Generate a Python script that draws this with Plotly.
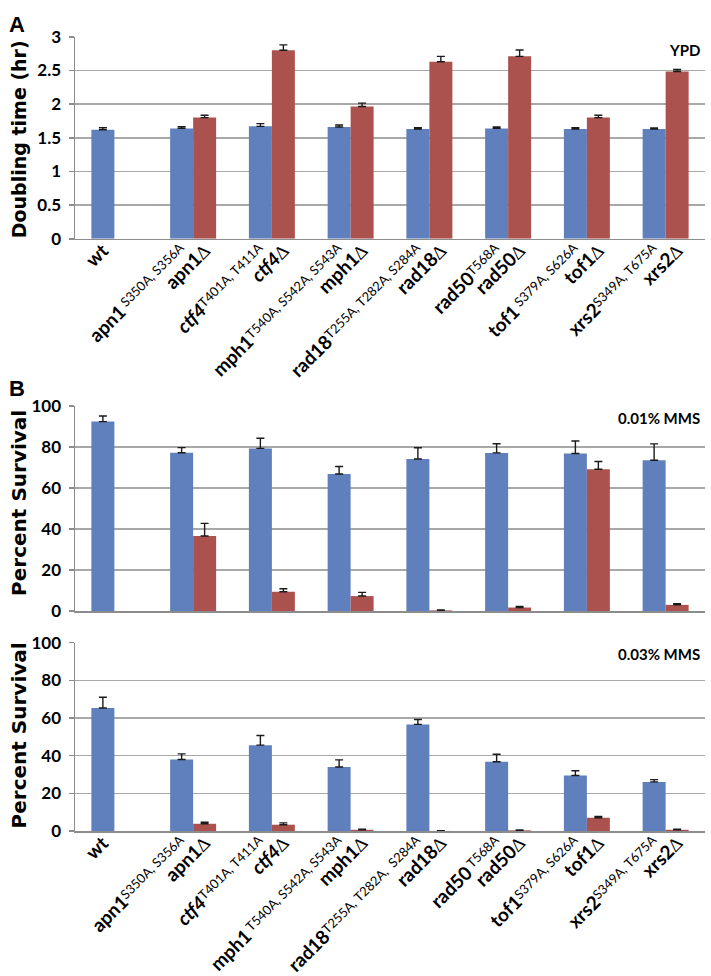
import plotly.graph_objects as go

# ---------------- data ----------------
genes = ["wt", "apn1", "ctf4", "mph1", "rad18", "rad50", "tof1", "xrs2"]

def sup(t):
    return "<span style='font-size:13px;font-weight:normal;baseline-shift:5px'>" + t + "</span>"

labels_A = ["<b>wt</b>",
            "<b>apn1</b>" + sup(" S350A, S356A"), "<b>apn1</b>∆",
            "<b><i>ctf4</i></b>" + sup("T401A, T411A"), "<b><i>ctf4</i></b>∆",
            "<b>mph1</b>" + sup("T540A, S542A, S543A"), "<b>mph1</b>∆",
            "<b>rad18</b>" + sup("T255A, T282A, S284A"), "<b>rad18</b>∆",
            "<b>rad50</b>" + sup("T568A"), "<b>rad50</b>∆",
            "<b>tof1</b>" + sup(" S379A, S626A"), "<b>tof1</b>∆",
            "<b>xrs2</b>" + sup("S349A, T675A"), "<b>xrs2</b>∆"]
labels_B = ["<b>wt</b>",
            "<b>apn1</b>" + sup("S350A, S356A"), "<b>apn1</b>∆",
            "<b><i>ctf4</i></b>" + sup("T401A, T411A"), "<b><i>ctf4</i></b>∆",
            "<b>mph1</b>" + sup(" T540A, S542A, S543A"), "<b>mph1</b>∆",
            "<b>rad18</b>" + sup("T255A, T282A,  S284A"), "<b>rad18</b>∆",
            "<b>rad50</b>" + sup(" T568A"), "<b>rad50</b>∆",
            "<b>tof1</b>" + sup("S379A, S626A"), "<b>tof1</b>∆",
            "<b>xrs2</b>" + sup("S349A, T675A"), "<b>xrs2</b>∆"]

# Panel A: doubling time (hr) in YPD
ypd_mut = [1.62, 1.64, 1.67, 1.66, 1.63, 1.64, 1.63, 1.63]
ypd_mut_err = [0.03, 0.025, 0.04, 0.03, 0.02, 0.02, 0.02, 0.015]
ypd_del = [None, 1.80, 2.80, 1.965, 2.63, 2.71, 1.80, 2.485]
ypd_del_err = [0, 0.035, 0.08, 0.05, 0.08, 0.095, 0.035, 0.03]

# Panel B top: percent survival 0.01% MMS
mms1_mut = [92.5, 77.3, 79.4, 66.9, 74.2, 77.2, 76.9, 73.6]
mms1_mut_err = [2.7, 2.5, 5.0, 3.7, 5.5, 4.5, 6.1, 8.0]
mms1_del = [None, 36.6, 9.4, 7.3, 0.3, 1.7, 69.2, 3.0]
mms1_del_err = [0, 6.2, 1.5, 1.8, 0.2, 0.5, 3.8, 0.6]

# Panel B bottom: percent survival 0.03% MMS
mms3_mut = [65.3, 38.0, 45.6, 34.0, 56.6, 36.8, 29.5, 26.1]
mms3_mut_err = [5.7, 3.0, 5.1, 3.8, 2.6, 4.0, 2.5, 1.2]
mms3_del = [None, 3.9, 3.4, 0.7, 0.1, 0.4, 7.1, 0.7]
mms3_del_err = [0, 0.8, 1.0, 0.3, 0.1, 0.2, 0.7, 0.3]

# ---------------- style ----------------
BLUE = "#5f80bc"
RED = "#ab524f"
GRID = "#a8a8a8"
AXIS = "#8c8c8c"
BARGAP = 0.416
FONT = "Lato"
TITLE_FONT = "DejaVu Sans"

W, H = 711, 976
def px_x(p):
    return p / W
def px_y(p):
    return 1 - p / H

x_idx = list(range(len(genes)))
half = (1 - BARGAP) / 4
tickvals = []
for i, g in enumerate(genes):
    tickvals.append(i - half)
    if ypd_del[i] is not None:
        tickvals.append(i + half)

fig = go.Figure()

def add_panel(n, mut, mut_err, dele, dele_err):
    xa = "x" if n == 1 else "x%d" % n
    ya = "y" if n == 1 else "y%d" % n
    err_style = dict(type="data", symmetric=False, color="#1a1a1a",
                     thickness=1.4, width=4)
    fig.add_trace(go.Bar(x=x_idx, y=mut, marker_color=BLUE,
                         marker_line_width=0, xaxis=xa, yaxis=ya,
                         error_y=dict(array=mut_err, arrayminus=[0] * len(mut), **err_style),
                         showlegend=False, hoverinfo="skip"))
    fig.add_trace(go.Bar(x=x_idx, y=dele, marker_color=RED,
                         marker_line_width=0, xaxis=xa, yaxis=ya,
                         error_y=dict(array=dele_err, arrayminus=[0] * len(dele), **err_style),
                         showlegend=False, hoverinfo="skip"))

add_panel(1, ypd_mut, ypd_mut_err, ypd_del, ypd_del_err)
add_panel(2, mms1_mut, mms1_mut_err, mms1_del, mms1_del_err)
add_panel(3, mms3_mut, mms3_mut_err, mms3_del, mms3_del_err)

x_dom = [px_x(75), px_x(705)]

def xaxis(labels, anchor):
    d = dict(domain=x_dom, range=[-0.5, len(genes) - 0.5], anchor=anchor,
             showgrid=False, zeroline=False, showline=True, linecolor=AXIS,
             linewidth=1.5, ticks="", fixedrange=True)
    if labels is None:
        d.update(showticklabels=False)
    else:
        d.update(tickmode="array", tickvals=tickvals, ticktext=labels,
                 tickangle=-45, ticklabelstandoff=-8,
                 tickfont=dict(family=FONT, size=19, color="black"))
    return d

def yaxis(dom, rng, dtick, anchor):
    return dict(domain=dom, range=rng, dtick=dtick, anchor=anchor,
                showgrid=True, gridcolor=GRID, gridwidth=1.5,
                zeroline=False, showline=True, linecolor=AXIS, linewidth=1.5,
                ticks="outside", ticklen=5, tickcolor=AXIS, tickwidth=1.5,
                tickfont=dict(family=FONT, size=17, color="black", weight="bold"),
                ticklabelstandoff=4, fixedrange=True)

fig.update_layout(
    width=W, height=H,
    margin=dict(l=0, r=0, t=0, b=0),
    paper_bgcolor="white", plot_bgcolor="white",
    barmode="group", bargap=BARGAP, bargroupgap=0,
    xaxis=xaxis(labels_A, "y"),
    yaxis=yaxis([px_y(238), px_y(27)], [0, 3], 0.5, "x"),
    xaxis2=xaxis(None, "y2"),
    yaxis2=yaxis([px_y(627), px_y(413)], [0, 100], 20, "x2"),
    xaxis3=xaxis(labels_B, "y3"),
    yaxis3=yaxis([px_y(857), px_y(660)], [0, 100], 20, "x3"),
)

ann = []
# panel letters
ann.append(dict(text="<b>A</b>", x=px_x(7), y=px_y(14), xanchor="left", yanchor="middle",
                font=dict(family="Liberation Sans", size=22, color="black")))
ann.append(dict(text="<b>B</b>", x=px_x(7), y=px_y(394), xanchor="left", yanchor="middle",
                font=dict(family="Liberation Sans", size=22, color="black")))
# y titles
ann.append(dict(text="<b>Doubling time (hr)</b>", x=px_x(19), y=px_y(134), textangle=-90,
                xanchor="center", yanchor="middle",
                font=dict(family=TITLE_FONT, size=19, color="black")))
ann.append(dict(text="<b>Percent Survival</b>", x=px_x(19), y=px_y(514), textangle=-90,
                xanchor="center", yanchor="middle",
                font=dict(family=TITLE_FONT, size=20, color="black")))
ann.append(dict(text="<b>Percent Survival</b>", x=px_x(19), y=px_y(757), textangle=-90,
                xanchor="center", yanchor="middle",
                font=dict(family=TITLE_FONT, size=20, color="black")))
# condition labels
ann.append(dict(text="<b>YPD</b>", x=px_x(702), y=px_y(41), xanchor="right", yanchor="middle",
                font=dict(family=FONT, size=15, color="black")))
ann.append(dict(text="<b>0.01% MMS</b>", x=px_x(702), y=px_y(425), xanchor="right", yanchor="middle",
                font=dict(family=FONT, size=15, color="black")))
ann.append(dict(text="<b>0.03% MMS</b>", x=px_x(702), y=px_y(672), xanchor="right", yanchor="middle",
                font=dict(family=FONT, size=15, color="black")))
for a in ann:
    a.update(xref="paper", yref="paper", showarrow=False)
fig.update_layout(annotations=ann)

fig.write_html("out.html",
               config={"displayModeBar": False, "staticPlot": True},
               post_script="document.body.style.margin='0';document.body.style.overflow='hidden';")
